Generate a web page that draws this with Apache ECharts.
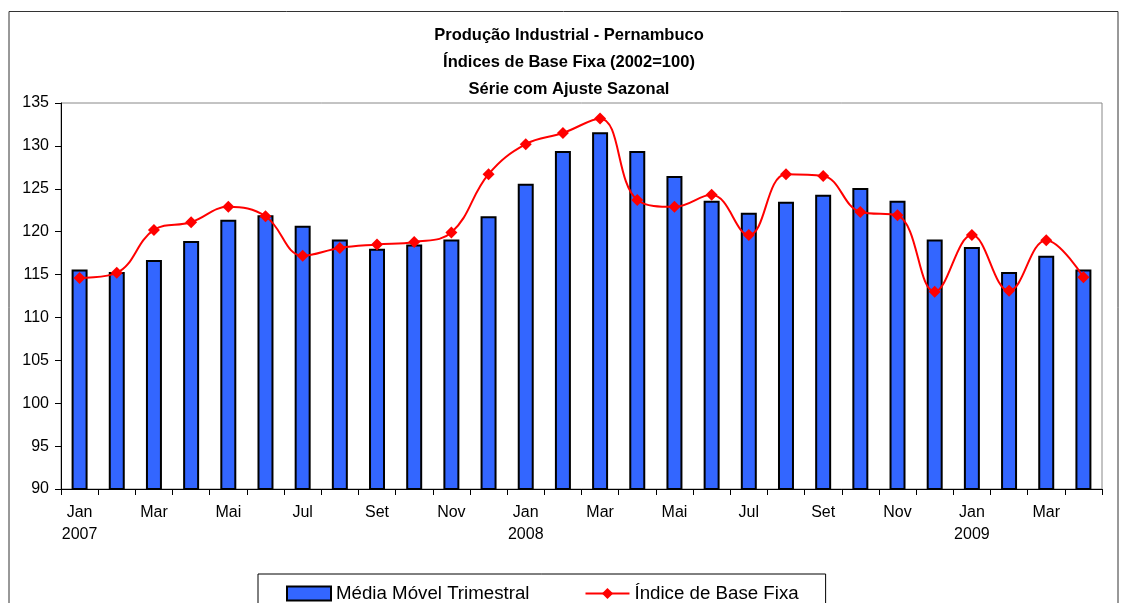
<!DOCTYPE html>
<html>
<head>
<meta charset="utf-8">
<script src="https://cdn.jsdelivr.net/npm/echarts@6/dist/echarts.min.js"></script>
<style>
  html, body { margin: 0; padding: 0; background: #fff; }
  #chart { width: 1121px; height: 603px; }
</style>
</head>
<body>
<div id="chart"></div>
<script>
// meses jan/2007 - abr/2009
const categories = [
  'Jan\n2007', 'Fev', 'Mar', 'Abr', 'Mai', 'Jun', 'Jul', 'Ago', 'Set', 'Out', 'Nov', 'Dez',
  'Jan\n2008', 'Fev', 'Mar', 'Abr', 'Mai', 'Jun', 'Jul', 'Ago', 'Set', 'Out', 'Nov', 'Dez',
  'Jan\n2009', 'Fev', 'Mar', 'Abr'
]
const mediaMovel = [
  115.6, 115.3, 116.7, 118.9, 121.4, 121.9, 120.7, 119.1, 118.0, 118.5, 119.1, 121.8,
  125.6, 129.4, 131.6, 129.4, 126.5, 123.6, 122.2, 123.5, 124.3, 125.1, 123.6, 119.1,
  118.2, 115.3, 117.2, 115.6
]
const indiceBase = [
  114.6, 115.2, 120.2, 121.1, 122.9, 121.8, 117.2, 118.1, 118.5, 118.8, 119.9, 126.7,
  130.2, 131.5, 133.2, 123.7, 122.9, 124.3, 119.6, 126.7, 126.5, 122.3, 121.9, 113.0,
  119.6, 113.1, 119.0, 114.7
]
const titulo = 'Produção Industrial - Pernambuco\nÍndices de Base Fixa (2002=100)\nSérie com Ajuste Sazonal'
const fonte = '"Liberation Sans", Arial, sans-serif'

const chart = echarts.init(document.getElementById('chart'))
chart.setOption({
  animation: false,
  backgroundColor: '#fff',
  textStyle: { fontFamily: fonte, color: '#000' },
  graphic: [{
    type: 'rect',
    shape: { x: 9, y: 11.5, width: 1109, height: 620 },
    style: { fill: 'none', stroke: '#333', lineWidth: 1 },
    silent: true
  }],
  title: {
    text: titulo,
    left: 564,
    top: 17,
    textAlign: 'center',
    textStyle: { fontFamily: fonte, fontSize: 16.5, fontWeight: 'bold', lineHeight: 27, color: '#000' }
  },
  grid: {
    left: 61, right: 19, top: 103, bottom: 114,
    show: true, borderColor: '#888', borderWidth: 1,
    containLabel: false
  },
  legend: {
    left: 258,
    top: 574,
    padding: [10, 27, 20, 28],
    itemGap: 55,
    itemWidth: 44,
    itemHeight: 14,
    borderColor: '#000',
    borderWidth: 1,
    textStyle: { fontFamily: fonte, fontSize: 18.7, color: '#000' },
    data: [
      { name: 'Média Móvel Trimestral', icon: 'rect' },
      { name: 'Índice de Base Fixa' }
    ]
  },
  xAxis: {
    type: 'category',
    data: categories,
    axisLine: { lineStyle: { color: '#000', width: 1 } },
    axisTick: { show: true, length: 6, interval: 0, lineStyle: { color: '#000' } },
    axisLabel: { interval: 1, margin: 13, fontSize: 16, lineHeight: 22, color: '#000', fontFamily: fonte },
    splitLine: { show: false }
  },
  yAxis: {
    type: 'value',
    min: 90,
    max: 135,
    interval: 5,
    axisLine: { show: true, lineStyle: { color: '#000', width: 1 } },
    axisTick: { show: true, length: 6, lineStyle: { color: '#000' } },
    axisLabel: { margin: 12, fontSize: 16, color: '#000', fontFamily: fonte },
    splitLine: { show: false }
  },
  series: [
    {
      name: 'Média Móvel Trimestral',
      type: 'bar',
      data: mediaMovel,
      barWidth: '43%',
      itemStyle: { color: '#3366FF', borderColor: '#000', borderWidth: 2 }
    },
    {
      name: 'Índice de Base Fixa',
      type: 'line',
      data: indiceBase,
      smooth: 0.4,
      symbol: 'diamond',
      symbolSize: 12,
      lineStyle: { color: '#FF0000', width: 2 },
      itemStyle: { color: '#FF0000' },
      z: 5
    }
  ]
})
</script>
</body>
</html>
